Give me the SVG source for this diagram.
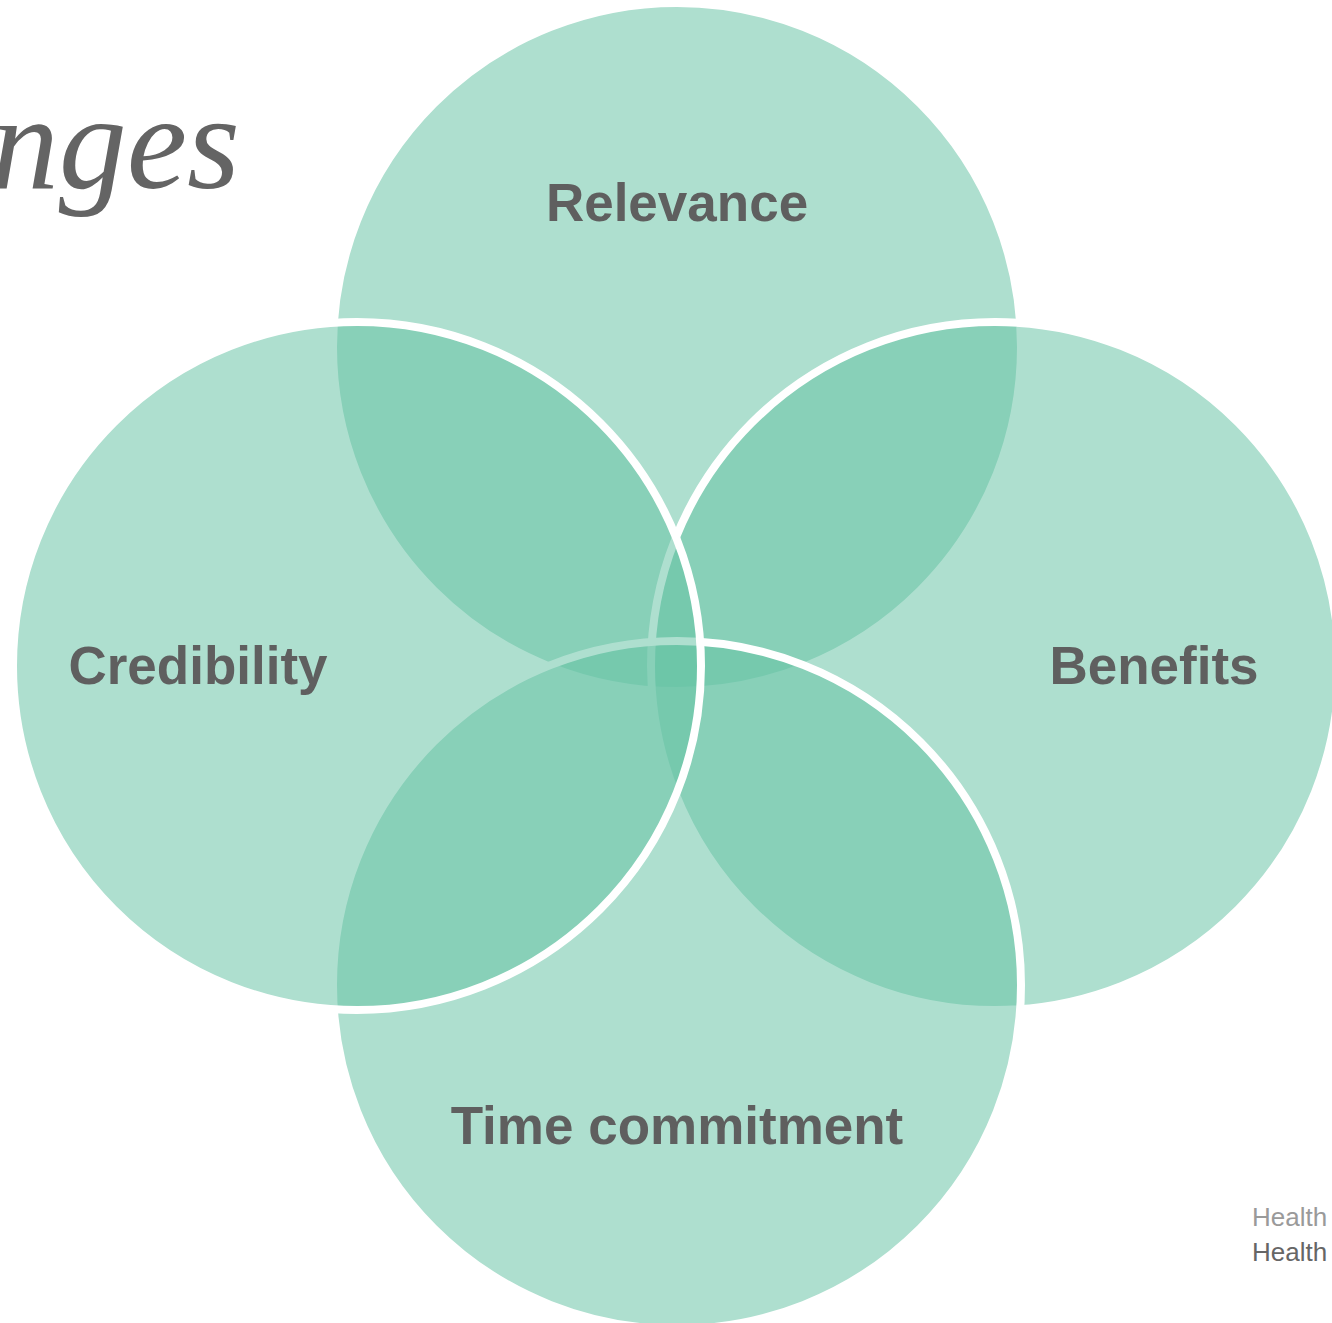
<svg xmlns="http://www.w3.org/2000/svg" width="1332" height="1323" viewBox="0 0 1332 1323">
  <style>
    .c { fill: #66C2A5; fill-opacity: 0.53; stroke: #FFFFFF; stroke-width: 8; }
    .lbl { font-family: "Liberation Sans", Arial, sans-serif; font-weight: bold; font-size: 53px; fill: #5F5F5F; text-anchor: middle; }
    .title { font-family: "Liberation Serif", "Times New Roman", serif; font-style: italic; font-size: 136px; fill: #646464; text-anchor: end; }
    .foot { font-family: "Liberation Sans", Arial, sans-serif; font-size: 26px; }
  </style>
  <rect width="1332" height="1323" fill="#FFFFFF"/>
  <text class="title" x="240" y="188">nges</text>
  <g id="node-relevance">
    <circle class="c" cx="677" cy="347" r="344"/>
  </g>
  <g id="node-benefits">
    <circle class="c" cx="995" cy="666" r="344"/>
  </g>
  <g id="node-time">
    <circle class="c" cx="677" cy="985" r="344"/>
  </g>
  <g id="node-credibility">
    <circle class="c" cx="357" cy="666" r="344"/>
  </g>
  <g id="connectors"></g>
  <g id="labels">
    <text class="lbl" x="677" y="221">Relevance</text>
    <text class="lbl" x="198" y="684">Credibility</text>
    <text class="lbl" x="1154" y="684">Benefits</text>
    <text class="lbl" x="677" y="1144">Time commitment</text>
  </g>
  <text class="foot" x="1252" y="1226" fill="#9A9A9A">Health</text>
  <text class="foot" x="1252" y="1261" fill="#666666">Health</text>
</svg>
